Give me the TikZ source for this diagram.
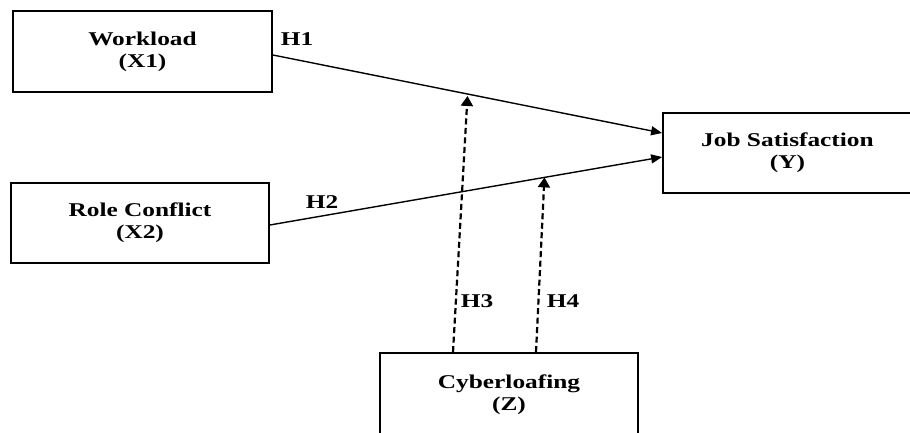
\documentclass[tikz,border=0pt]{standalone}
\usepackage{fontspec}
\setmainfont{Liberation Serif}[FakeStretch=1.3]
\usetikzlibrary{arrows.meta,calc}
\begin{document}
\begin{tikzpicture}[x=1pt,y=-1pt,
  box/.style={draw,line width=1.8pt,inner sep=0pt,align=center,font=\fontsize{19.5}{22}\selectfont\bfseries},
  lab/.style={inner sep=0pt,font=\fontsize{19.5}{22}\selectfont\bfseries},
  pathar/.style={line width=1.4pt,-{Triangle[length=11pt,width=9pt]}},
  modar/.style={line width=2.2pt,dash pattern=on 6pt off 3.5pt,-{Triangle[length=10pt,width=12pt]}}]
\path[use as bounding box] (0,0) rectangle (910,433);
\node[box,minimum width=259pt,minimum height=81pt] (w) at (142.5,51.5) {Workload\\(X1)};
\node[box,minimum width=258pt,minimum height=80pt] (rc) at (140,223) {Role Conflict\\(X2)};
\node[box,minimum width=249pt,minimum height=80pt] (y) at (787.5,153) {Job Satisfaction\\(Y)};
\node[box,minimum width=258pt,minimum height=83pt] (z) at (509,394.5) {Cyberloafing\\(Z)};
\coordinate (a1) at ([yshift=-3.5pt]w.east);
\coordinate (b1) at ([yshift=20pt]y.west);
\coordinate (a2) at ([yshift=-2pt]rc.east);
\coordinate (b2) at ([yshift=-4pt]y.west);
\draw[pathar] (a1) -- (b1);
\draw[pathar] (a2) -- (b2);
\coordinate (t3) at ([yshift=-2pt]$(a1)!0.5!(b1)$);
\coordinate (t4) at ($(a2)!0.70!(b2)$);
\coordinate (s3) at ([xshift=-56pt]z.north);
\coordinate (s4) at ([xshift=27pt]z.north);
\draw[modar] (s3) -- (t3);
\draw[modar] (s4) -- (t4);
\node[lab] (h1) at (297,39) {H1};
\node[lab] (h2) at (322,202) {H2};
\node[lab] (h3) at (477,301) {H3};
\node[lab] (h4) at (563,301) {H4};
\end{tikzpicture}
\end{document}
